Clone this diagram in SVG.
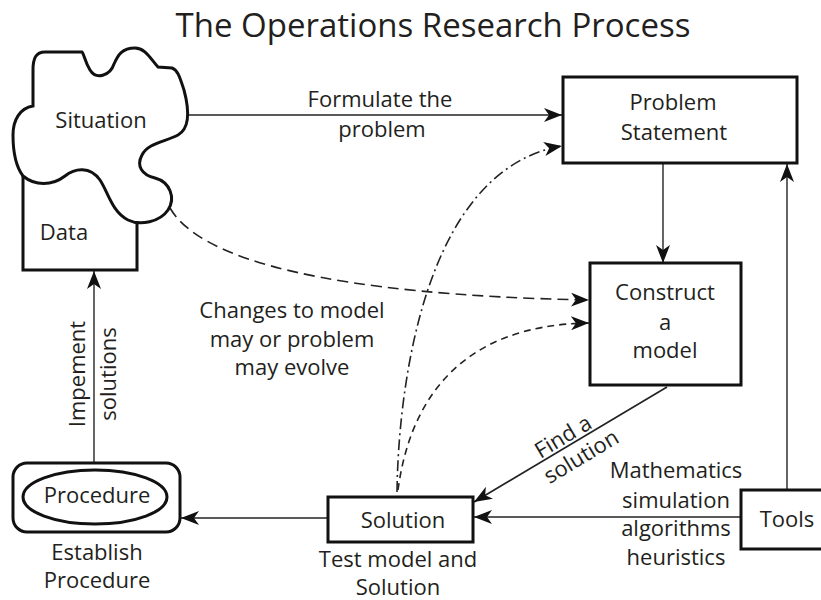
<svg xmlns="http://www.w3.org/2000/svg" width="821" height="600" viewBox="0 0 821 600">
<defs>
<style>
.t{font-family:"Open Sans","Liberation Sans",sans-serif;font-size:22px;fill:#231f20;text-anchor:middle}
.title{font-size:33px}
.box{fill:#fff;stroke:#111;stroke-width:3}
.ln{fill:none;stroke:#222;stroke-width:1.6}
.gr{fill:none;stroke:#555;stroke-width:1.8}
.d1{fill:none;stroke:#222;stroke-width:1.6;stroke-dasharray:11 6}
.d2{fill:none;stroke:#222;stroke-width:1.6;stroke-dasharray:11 4 2 4}
.d3{fill:none;stroke:#222;stroke-width:1.6;stroke-dasharray:7 5}
</style>
<marker id="ah" viewBox="0 0 18 14" refX="18" refY="7" markerWidth="18" markerHeight="14" markerUnits="userSpaceOnUse" orient="auto">
<path d="M0,0 L18,7 L0,14 L5,7 Z" fill="#111"/>
</marker>
</defs>
<rect width="821" height="600" fill="#fff"/>
<text class="t title" x="433" y="37">The Operations Research Process</text>

<g id="connectors">
<line class="ln" x1="188" y1="115" x2="562" y2="115" marker-end="url(#ah)"/>
<line class="gr" x1="663" y1="163" x2="663" y2="263" marker-end="url(#ah)"/>
<line class="gr" x1="787" y1="490" x2="787" y2="164" marker-end="url(#ah)"/>
<line class="ln" x1="741" y1="517" x2="474" y2="517" marker-end="url(#ah)"/>
<line class="ln" x1="667" y1="387" x2="474" y2="502" marker-end="url(#ah)"/>
<line class="ln" x1="328" y1="518" x2="181" y2="518" marker-end="url(#ah)"/>
<line class="gr" x1="94" y1="463" x2="94" y2="271" marker-end="url(#ah)"/>
<path class="d1" d="M170,208 C200,260 330,295 589,300" marker-end="url(#ah)"/>
<path class="d2" d="M397,492 C398,400 420,170 562,146" marker-end="url(#ah)"/>
<path class="d3" d="M398,490 C410,400 460,325 589,323" marker-end="url(#ah)"/>
</g>

<g id="situation">
<path d="M23,176 C35,186 52,186 65,176 C75,168 90,166 100,180 C108,192 112,212 128,220 C140,226 160,222 168,210 C176,198 170,182 155,178 C142,175 136,166 142,155 C148,143 165,142 178,135 C192,127 188,105 184,90 C180,78 178,70 172,68 L158,67 C150,58 145,48 135,48 C122,48 118,55 114,64 C110,76 96,80 90,70 C85,62 84,54 82,52 L45,52 C36,52 33,58 33,70 L33,106 C20,108 13,120 13,135 C13,155 17,168 23,176 Z" fill="#fff" stroke="#111" stroke-width="3"/>
<text class="t" x="101" y="128">Situation</text>
</g>
<g id="data">
<path d="M23,176 L23,270 L137,270 L137,221" fill="none" stroke="#111" stroke-width="3"/>
<text class="t" x="64" y="240">Data</text>
</g>
<g id="problem">
<rect class="box" x="563" y="77" width="234" height="86"/>
<text class="t" x="673" y="110">Problem</text>
<text class="t" x="674" y="140">Statement</text>
</g>
<g id="construct">
<rect class="box" x="590" y="263" width="151" height="122"/>
<text class="t" x="665" y="300">Construct</text>
<text class="t" x="665" y="330">a</text>
<text class="t" x="665" y="358">model</text>
</g>
<g id="solution">
<rect class="box" x="328" y="497" width="145" height="45"/>
<text class="t" x="403" y="528">Solution</text>
</g>
<g id="tools">
<rect class="box" x="741" y="490" width="82" height="59"/>
<text class="t" x="787" y="527">Tools</text>
</g>
<g id="procedure">
<rect class="box" x="13" y="463" width="167" height="69" rx="14"/>
<ellipse cx="95" cy="497" rx="72" ry="27" fill="none" stroke="#111" stroke-width="3"/>
<text class="t" x="97" y="503">Procedure</text>
</g>

<g id="labels">
<text class="t" x="380" y="107">Formulate the</text>
<text class="t" x="382" y="137">problem</text>
<text class="t" x="292" y="318">Changes to model</text>
<text class="t" x="292" y="347">may or problem</text>
<text class="t" x="292" y="375">may evolve</text>
<text class="t" transform="translate(567,443) rotate(-31)">Find a</text>
<text class="t" transform="translate(585,463) rotate(-31)">solution</text>
<text class="t" x="676" y="478">Mathematics</text>
<text class="t" x="676" y="508">simulation</text>
<text class="t" x="676" y="536">algorithms</text>
<text class="t" x="676" y="565">heuristics</text>
<text class="t" x="398" y="567">Test model and</text>
<text class="t" x="398" y="595">Solution</text>
<text class="t" x="97" y="560">Establish</text>
<text class="t" x="97" y="588">Procedure</text>
<text class="t" transform="translate(85,374) rotate(-90)">Impement</text>
<text class="t" transform="translate(116,374) rotate(-90)">solutions</text>
</g>
</svg>
